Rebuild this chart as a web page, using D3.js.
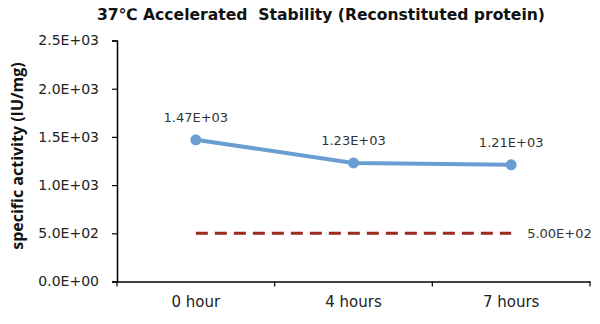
<!DOCTYPE html>
<html><head><meta charset="utf-8">
<script src="https://cdn.jsdelivr.net/npm/d3@7"></script>
<style>body{margin:0;background:#fff}svg{display:block}text{font-family:"DejaVu Sans",sans-serif}</style>
</head><body>
<svg id="c" width="600" height="324"></svg>
<script>
const categories = ["0 hour", "4 hours", "7 hours"];
const activity = [1470, 1230, 1210];
const activityLabels = ["1.47E+03", "1.23E+03", "1.21E+03"];
const specLimit = [500, 500, 500];
const specLabel = "5.00E+02";
const yTicks = [0, 500, 1000, 1500, 2000, 2500];
const yTickLabels = ["0.0E+00", "5.0E+02", "1.0E+03", "1.5E+03", "2.0E+03", "2.5E+03"];

const FONT = "'DejaVu Sans',sans-serif";
const svg = d3.select("#c");
const m = {l: 117, r: 10, t: 40.5, b: 42.5};
const W = 600, H = 324;
const x = d3.scaleBand().domain(categories).range([m.l, W - m.r]);
const y = d3.scaleLinear().domain([0, 2500]).range([H - m.b, m.t]);

svg.append("text").attr("x", 321).attr("y", 20).attr("text-anchor", "middle")
  .attr("font-weight", "bold").attr("font-size", 15.6).attr("fill", "#111")
  .style("white-space", "pre").attr("xml:space", "preserve")
  .text("37\u2103 Accelerated  Stability (Reconstituted protein)");

svg.append("text").attr("transform", `translate(23,156) rotate(-90)`)
  .attr("text-anchor", "middle").attr("font-weight", "bold").attr("font-size", 16).attr("fill", "#111")
  .style("font-family", "'Open Sans',sans-serif")
  .text("specific activity (IU/mg)");

const ya = svg.append("g").attr("transform", `translate(${m.l},0)`)
  .call(d3.axisLeft(y).tickValues(yTicks).tickSize(5).tickPadding(13)
    .tickFormat((d, i) => yTickLabels[i]));
ya.select(".domain").attr("stroke", "#000").attr("stroke-width", 1.5);
ya.selectAll(".tick line").attr("stroke", "#000").attr("stroke-width", 1.2);
ya.selectAll("text").attr("font-size", 14).attr("fill", "#222").style("font-family", FONT);

const xa = svg.append("g").attr("transform", `translate(0,${H - m.b})`)
  .call(d3.axisBottom(x).tickSize(0).tickPadding(15));
xa.select(".domain").attr("stroke", "#000").attr("stroke-width", 1.5);
xa.selectAll("text").attr("font-size", 15).attr("fill", "#222").style("font-family", FONT);
const bounds = categories.map(c => x(c)).concat([x(categories[categories.length - 1]) + x.bandwidth()]);
xa.selectAll(".bt").data(bounds).enter().append("line").attr("class", "bt")
  .attr("x1", d => d).attr("x2", d => d).attr("y1", 0).attr("y2", 5)
  .attr("stroke", "#000").attr("stroke-width", 1.2);

const cx = c => x(c) + x.bandwidth() / 2;

// spec limit dashed line
svg.append("path")
  .attr("d", d3.line().x((d, i) => cx(categories[i])).y(d => y(d))(specLimit))
  .attr("fill", "none").attr("stroke", "#9c2a1e").attr("stroke-width", 3)
  .attr("stroke-dasharray", "12,7");
svg.append("text").attr("x", cx(categories[2]) + 16).attr("y", y(specLimit[2]) + 5)
  .attr("font-size", 13).attr("fill", "#333").text(specLabel);

// activity line
svg.append("path")
  .attr("d", d3.line().x((d, i) => cx(categories[i])).y(d => y(d))(activity))
  .attr("fill", "none").attr("stroke", "#6a9ed2").attr("stroke-width", 4).attr("stroke-linejoin", "round");
svg.selectAll(".pt").data(activity).enter().append("circle").attr("class", "pt")
  .attr("cx", (d, i) => cx(categories[i])).attr("cy", d => y(d)).attr("r", 5.5).attr("fill", "#6a9ed2");
svg.selectAll(".lbl").data(activity).enter().append("text").attr("class", "lbl")
  .attr("x", (d, i) => cx(categories[i])).attr("y", d => y(d) - 18)
  .attr("text-anchor", "middle").attr("font-size", 13).attr("fill", "#333")
  .text((d, i) => activityLabels[i]);
</script>
</body></html>
